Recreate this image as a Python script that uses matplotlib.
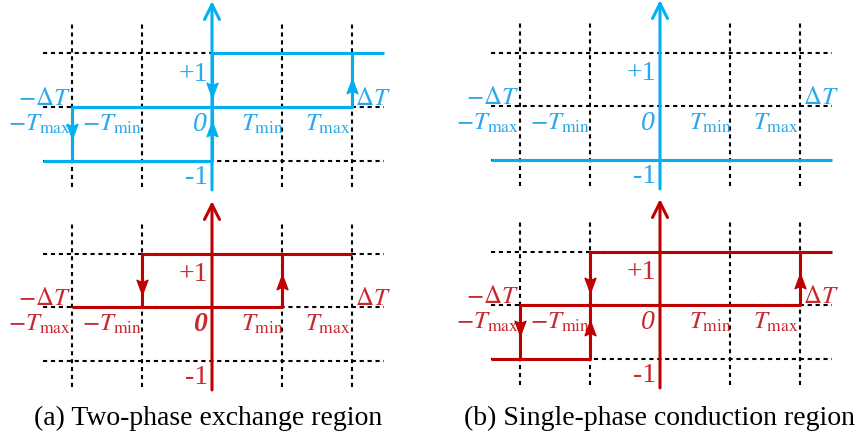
import numpy as np
import matplotlib.pyplot as plt

plt.rcParams['mathtext.fontset'] = 'stix'
plt.rcParams['font.family'] = ['Liberation Serif', 'DejaVu Serif']

W, H = 860, 439
UX, UY = 70.0, 53.5          # pixels per unit on each panel

BLUE, BLUE_TXT = '#00B0F0', '#2AA8EE'
RED, RED_TXT = '#C00000', '#C8282E'

# grid of switching temperatures and output levels
t_grid = [-2.0, -1.0, 1.0, 2.0]
levels = [1.0, 0.0, -1.0]
x_ends = [-2.42, 2.46]
y_ends = [-1.5, 1.6]
axis_ends = [-1.55, 1.98]

# hysteresis branches, one list of (x, y) polylines per panel
a_top_x = [[-2.42, 0, 0, 2.46], [-2, -2, 2, 2]]
a_top_y = [[-1, -1, 1, 1], [-1, 0, 0, 1]]
a_bot_x = [[-2, 1, 1], [-1, -1, 2]]
a_bot_y = [[0, 0, 1], [0, 1, 1]]
b_top_x = [[-2.42, 2.46]]
b_top_y = [[-1, -1]]
b_bot_x = [[-2.42, -1, -1, 2.46], [-2, -2, 2, 2]]
b_bot_y = [[-1, -1, 1, 1], [-1, 0, 0, 1]]

# direction arrows on the vertical branches: x, y, +1 up / -1 down
a_top_arr = [(0, 0.33, -1), (0, -0.43, 1), (2, 0.38, 1), (-2, -0.43, -1)]
a_bot_arr = [(-1, 0.40, -1), (1, 0.45, 1)]
b_top_arr = []
b_bot_arr = [(-1, 0.40, -1), (-1, -0.45, 1), (-2, -0.42, -1), (2, 0.43, 1)]

t_labels = [r'$-T_{\rm max}$', r'$-T_{\rm min}$', r'$T_{\rm min}$', r'$T_{\rm max}$']
t_label_x = [-2.02, -1.0, 1.03, 1.98]

DOWN = [(0, -1), (-0.65, 0.75), (0, 0.45), (0.65, 0.75), (0, -1)]
UP = [(x, -y) for x, y in DOWN]

fig = plt.figure(figsize=(W / 100, H / 100), dpi=100)


def panel(cx, cy, xs, ys, arrows, col, tcol, bold_zero=False):
    ax = fig.add_axes([(cx - 3 * UX) / W, (H - (cy + 1.9 * UY)) / H,
                       6 * UX / W, 3.9 * UY / H])
    ax.set_xlim(-3, 3)
    ax.set_ylim(-1.9, 2.0)
    ax.axis('off')
    ax.patch.set_alpha(0)
    dots = dict(color='black', lw=1.5, ls=(0, (2.0, 1.8)), zorder=1)
    for lv in levels:
        ax.plot(x_ends, [lv, lv], **dots)
    for t in t_grid:
        ax.plot([t, t], y_ends, **dots)
    for x, y in zip(xs, ys):
        ax.plot(x, y, color=col, lw=2.2, zorder=3, solid_capstyle='butt')
    ax.annotate('', xy=(0, axis_ends[1]), xytext=(0, axis_ends[0]),
                arrowprops=dict(arrowstyle='->,head_length=0.4,head_width=0.2',
                                color=col, lw=2.2, mutation_scale=27,
                                shrinkA=0, shrinkB=0), zorder=4)
    for x, y, d in arrows:
        ax.plot(x, y, marker=UP if d > 0 else DOWN, ms=12, color=col,
                mec=col, zorder=5)

    ax.text(-2.02, 0.06, r'$-\Delta T$', color=tcol, fontsize=18,
            ha='right', va='baseline')
    ax.text(2.04, 0.06, r'$\Delta T$', color=tcol, fontsize=18,
            ha='left', va='baseline')
    for s, x in zip(t_labels, t_label_x):
        ax.text(x, -0.42, s, color=tcol, fontsize=18, ha='right', va='baseline')
    ax.text(-0.05, 0.62, '+1', color=tcol, fontsize=20, ha='right', va='center')
    ax.text(-0.07, -0.3, '0', color=tcol, fontsize=20, style='italic',
            weight='bold' if bold_zero else 'normal', ha='right', va='center')
    ax.text(-0.05, -1.3, '-1', color=tcol, fontsize=20, ha='right', va='center')
    return ax


panel(212, 108, a_top_x, a_top_y, a_top_arr, BLUE, BLUE_TXT)
panel(212, 308, a_bot_x, a_bot_y, a_bot_arr, RED, RED_TXT, bold_zero=True)
panel(660, 107, b_top_x, b_top_y, b_top_arr, BLUE, BLUE_TXT)
panel(660, 306, b_bot_x, b_bot_y, b_bot_arr, RED, RED_TXT)

fig.text(208 / W, 1 - 418 / H, '(a) Two-phase exchange region', fontsize=20,
         ha='center', va='center')
fig.text(660 / W, 1 - 418 / H, '(b) Single-phase conduction region', fontsize=20,
         ha='center', va='center')

fig.savefig('out.png', dpi=100)
